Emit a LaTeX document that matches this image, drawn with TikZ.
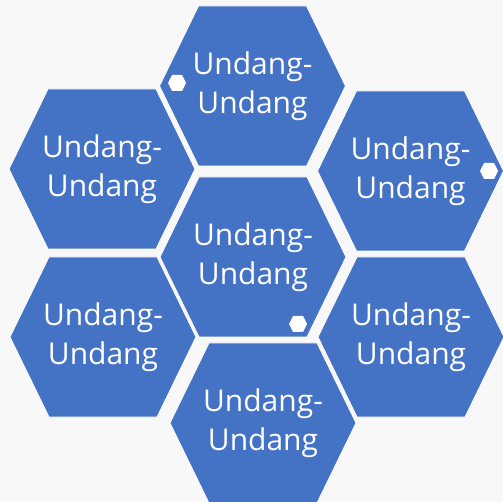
\documentclass[tikz,border=0pt]{standalone}
\usepackage{fontspec}
\setmainfont{Open Sans}
\definecolor{hexblue}{HTML}{4472C4}
\definecolor{bgray}{HTML}{F8F8F8}
\tikzset{
  hexfill/.style={fill=hexblue, draw=white, line width=0.8pt, line join=miter},
  hexlabel/.style={text=white, font=\fontsize{30}{38.5}\selectfont, align=center, inner sep=0pt},
  dotfill/.style={fill=white, draw=none}
}
\newcommand\bighex[3]{%
  \path[hexfill] (#1-93,#2) -- (#1-54,#2-80) -- (#1+54,#2-80) -- (#1+93,#2) -- (#1+54,#2+80) -- (#1-54,#2+80) -- cycle;
  \node[hexlabel] (#3) at (#1,#2) {Undang-\\Undang};}
\newcommand\smallhex[2]{%
  \path[dotfill] (#1-9,#2) -- (#1-5,#2-8) -- (#1+5,#2-8) -- (#1+9,#2) -- (#1+5,#2+8) -- (#1-5,#2+8) -- cycle;}
\begin{document}
\begin{tikzpicture}[x=1pt,y=-1pt]
\fill[bgray] (0,0) rectangle (503,502);
\useasboundingbox (0,0) rectangle (503,502);
\bighex{252.5}{86}{top}
\bighex{102}{169}{ul}
\bighex{410.5}{171}{ur}
\bighex{253}{257}{mid}
\bighex{103}{337}{ll}
\bighex{411}{337}{lr}
\bighex{263}{423}{bot}
\smallhex{177}{83}
\smallhex{489}{171}
\smallhex{298}{324}
\end{tikzpicture}
\end{document}
